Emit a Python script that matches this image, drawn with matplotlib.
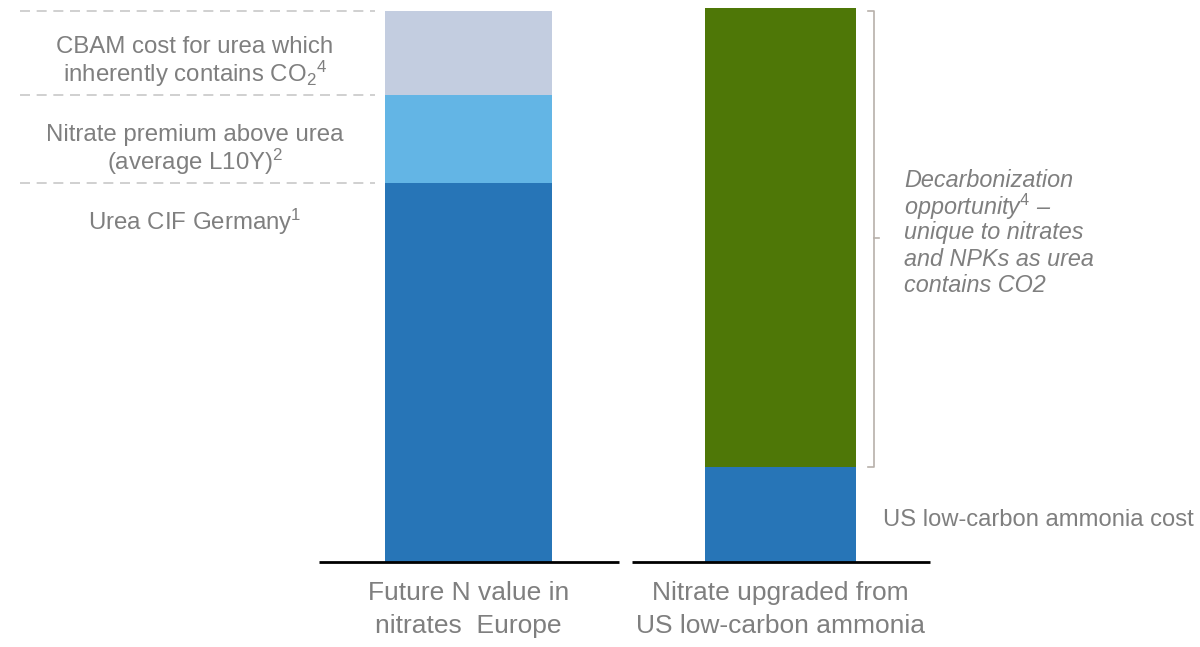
import matplotlib
matplotlib.use("Agg")
import matplotlib.pyplot as plt

plt.rcParams['font.family'] = ['Liberation Sans', 'DejaVu Sans']
plt.rcParams['mathtext.fontset'] = 'custom'
plt.rcParams['mathtext.rm'] = 'Liberation Sans'
plt.rcParams['mathtext.it'] = 'Liberation Sans:italic'
plt.rcParams['mathtext.default'] = 'rm'

# bar values (same units for both bars)
left_segments = ["Urea CIF Germany", "Nitrate premium", "CBAM cost"]
left_values = [379, 88, 84]
left_colors = ["#2775b7", "#63b5e5", "#c3cde0"]

right_segments = ["US low-carbon ammonia cost", "Decarbonization opportunity"]
right_values = [95, 459]
right_colors = ["#2775b7", "#4e7707"]

categories = [["Future N value in", "nitrates  Europe"],
              ["Nitrate upgraded from", "US low-carbon ammonia"]]

left_labels = [[r"Urea CIF Germany$^{1}$"],
               ["Nitrate premium above urea", r"(average L10Y)$^{2}$"],
               ["CBAM cost for urea which", r"inherently contains CO$_{2}$$^{4}$"]]

decarb_lines = ["Decarbonization", r"opportunity$^{4}$ –", "unique to nitrates",
                "and NPKs as urea", "contains CO2"]

grey = "#7f7f7f"
fs = 17.3

fig = plt.figure(figsize=(12, 6.47), dpi=100)
ax = fig.add_axes([0, 0, 1, 1])
ax.set_xlim(0, 1200)
ax.set_ylim(-85, 562)
ax.axis("off")

x_left, x_right = 468.5, 780.5
w_left, w_right = 167, 151

# left stacked bar
bottom = 0
tops = []
for v, c in zip(left_values, left_colors):
    ax.bar(x_left, v, bottom=bottom, width=w_left, color=c, linewidth=0)
    bottom += v
    tops.append(bottom)

# right stacked bar
bottom = 0
for v, c in zip(right_values, right_colors):
    ax.bar(x_right, v, bottom=bottom, width=w_right, color=c, linewidth=0)
    bottom += v

# baselines
ax.plot([319, 619], [0, 0], color="black", lw=2, solid_capstyle="butt")
ax.plot([632, 930], [0, 0], color="black", lw=2, solid_capstyle="butt")

# dashed separators on the left
for t in tops:
    ax.plot([20, 375], [t, t], color="#c8c8c8", lw=1.2, ls=(0, (6, 4)))

# left side segment labels, one line at a time
label_y0 = [340, 427, 515]
for lines, y0 in zip(left_labels, label_y0):
    for i, line in enumerate(lines):
        ax.text(195, y0 - 27 * i, line, ha="center", va="center",
                color=grey, fontsize=fs)

# bracket around the green segment
g0 = right_values[0]
g1 = right_values[0] + right_values[1]
bx = 874
bc = "#b8b0aa"
ax.plot([bx - 6, bx, bx, bx - 6], [g1 - 3, g1 - 3, g0, g0], color=bc, lw=1.2)
gm = (g0 + g1) / 2
ax.plot([bx, bx + 5], [gm, gm], color=bc, lw=1.2)

for i, line in enumerate(decarb_lines):
    ax.text(904, gm + 57 - 26.25 * i, line, ha="left", va="center",
            color=grey, fontsize=16.8, style="italic")

ax.text(883, g0 / 2 - 6, right_segments[0], ha="left", va="center",
        color=grey, fontsize=17.1)

# category labels under the bars
for x, cat in zip([x_left, x_right], categories):
    for i, line in enumerate(cat):
        ax.text(x, -31 - 33 * i, line, ha="center", va="center",
                color=grey, fontsize=19)

fig.savefig("out.png", dpi=100)
